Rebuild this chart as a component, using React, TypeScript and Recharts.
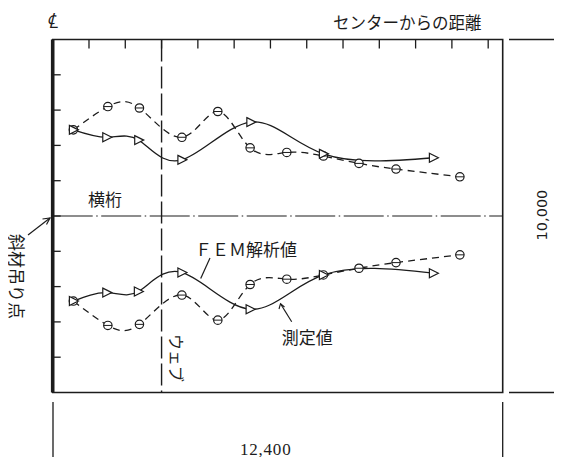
import {
  ComposedChart,
  Line,
  XAxis,
  YAxis,
  ReferenceLine,
  ReferenceArea,
} from 'recharts'

// distance from centre, mm (x) and plotting height, mm (y)
const upperMeasuredX = [570, 1520, 2390, 3560, 4550, 5440, 6450, 7460, 8440, 9460, 11220]
const upperMeasuredY = [7440, 8100, 8060, 7230, 7960, 6930, 6800, 6700, 6490, 6330, 6110]
const upperFemX = [570, 1490, 2370, 3560, 5460, 7460, 10490]
const upperFemY = [7440, 7230, 7150, 6590, 7660, 6760, 6650]

const lowerMeasuredX = [570, 1520, 2390, 3560, 4550, 5440, 6450, 7460, 8440, 9460, 11220]
const lowerMeasuredY = [2590, 1900, 1930, 2760, 2050, 3060, 3210, 3330, 3520, 3680, 3900]
const lowerFemX = [570, 1490, 2360, 3560, 5440, 7460, 10490]
const lowerFemY = [2590, 2830, 2860, 3400, 2360, 3330, 3380]

const xTicks = [1000, 2000, 3000, 4000, 5000, 6000, 7000, 8000, 9000, 10000, 11000, 12000]
const yTicks = [1000, 2000, 3000, 4000, 5000, 6000, 7000, 8000, 9000]

const WIDTH_MM = 12400
const HEIGHT_MM = 10000
const WEB_X = 3000
const CENTRE_Y = 5000

// plot frame on the page (body margin 8 + chart margins)
const FRAME_LEFT = 52.7
const FRAME_TOP = 39.5
const FRAME_W = 450

const INK = '#1c1c1c'
const JP = '"Noto Sans CJK JP", "Noto Sans", sans-serif'

const toPoints = (xs: number[], ys: number[]) => xs.map((x, i) => ({ x, y: ys[i] }))

const upperMeasured = toPoints(upperMeasuredX, upperMeasuredY)
const upperFem = toPoints(upperFemX, upperFemY)
const lowerMeasured = toPoints(lowerMeasuredX, lowerMeasuredY)
const lowerFem = toPoints(lowerFemX, lowerFemY)

// tick marks only, no labels
const noLabel = () => <g />

function CircleDot(props: any) {
  const { cx, cy } = props
  if (cx == null || cy == null) return null
  return (
    <g>
      <circle cx={cx} cy={cy} r={4.2} fill="#fff" stroke={INK} strokeWidth={1.2} />
      <line x1={cx - 4.2} y1={cy} x2={cx + 4.2} y2={cy} stroke={INK} strokeWidth={1} />
    </g>
  )
}

function TriangleDot(props: any) {
  const { cx, cy } = props
  if (cx == null || cy == null) return null
  const pts = `${cx - 4},${cy - 4.5} ${cx + 5},${cy} ${cx - 4},${cy + 4.5}`
  return <polygon points={pts} fill="#fff" stroke={INK} strokeWidth={1.2} />
}

export default function App() {
  return (
    <div style={{ position: 'relative', width: 546, height: 449 }}>
      <ComposedChart
        width={546}
        height={449}
        margin={{ top: 31.5, left: 44.7, right: 51.3, bottom: 64.5 }}
      >
        <XAxis
          type="number"
          dataKey="x"
          domain={[0, WIDTH_MM]}
          ticks={xTicks}
          orientation="top"
          height={0}
          tick={noLabel}
          tickLine={false}
          axisLine={{ stroke: INK, strokeWidth: 1.6 }}
          allowDataOverflow
        />
        <YAxis
          type="number"
          dataKey="y"
          domain={[0, HEIGHT_MM]}
          ticks={yTicks}
          mirror
          tick={noLabel}
          tickSize={8}
          tickLine={{ stroke: INK, strokeWidth: 1.3 }}
          axisLine={{ stroke: INK, strokeWidth: 3.6 }}
          allowDataOverflow
        />
        <ReferenceArea
          x1={0}
          x2={WIDTH_MM}
          y1={0}
          y2={HEIGHT_MM}
          fill="none"
          fillOpacity={0}
          stroke={INK}
          strokeWidth={1.6}
          ifOverflow="visible"
        />
        <ReferenceLine x={WEB_X} stroke={INK} strokeWidth={1.4} strokeDasharray="22 5" />
        <ReferenceLine y={CENTRE_Y} stroke={INK} strokeWidth={1.1} strokeDasharray="40 3.5 1.5 3.5" />

        <Line
          data={upperMeasured}
          dataKey="y"
          type="natural"
          stroke={INK}
          strokeWidth={1.3}
          strokeDasharray="7 5"
          dot={<CircleDot />}
          isAnimationActive={false}
        />
        <Line
          data={lowerMeasured}
          dataKey="y"
          type="natural"
          stroke={INK}
          strokeWidth={1.3}
          strokeDasharray="7 5"
          dot={<CircleDot />}
          isAnimationActive={false}
        />
        <Line
          data={upperFem}
          dataKey="y"
          type="natural"
          stroke={INK}
          strokeWidth={1.3}
          dot={<TriangleDot />}
          isAnimationActive={false}
        />
        <Line
          data={lowerFem}
          dataKey="y"
          type="natural"
          stroke={INK}
          strokeWidth={1.3}
          dot={<TriangleDot />}
          isAnimationActive={false}
        />
      </ComposedChart>

      {/* annotations, page coordinates */}
      <svg
        width={562}
        height={465}
        style={{ position: 'absolute', left: -8, top: -8, pointerEvents: 'none' }}
      >
        {/* inward ticks along the top edge, one per metre */}
        {xTicks.map((t) => {
          const x = FRAME_LEFT + (t / WIDTH_MM) * FRAME_W
          return (
            <line
              key={t}
              x1={x}
              y1={FRAME_TOP}
              x2={x}
              y2={FRAME_TOP + 9}
              stroke={INK}
              strokeWidth={1.3}
            />
          )
        })}

        <text x={46} y={28} fontSize={21} fontStyle="italic" fontFamily="DejaVu Serif" fill={INK}>
          ℄
        </text>
        <text x={333} y={29} fontSize={16.5} fontFamily={JP} fill={INK}>
          センターからの距離
        </text>

        {/* height dimension */}
        <path d="M509 39.5 H557 V392.5 H509" stroke={INK} strokeWidth={1.3} fill="none" />
        <text
          x={541.7}
          y={215}
          transform="rotate(-90 541.7 215)"
          textAnchor="middle"
          dominantBaseline="central"
          fontSize={14.5}
          fontFamily="DejaVu Sans"
          fill={INK}
        >
          10,000
        </text>

        {/* width dimension */}
        <path d="M53 402 V463 H502.7 V402" stroke={INK} strokeWidth={1.3} fill="none" />
        <text
          x={265.7}
          y={455}
          textAnchor="middle"
          fontSize={17}
          fontFamily="Liberation Serif"
          letterSpacing={0.8}
          fill={INK}
        >
          12,400
        </text>

        <text x={88} y={206} fontSize={17} fontFamily={JP} fill={INK}>
          横桁
        </text>

        <text x={195} y={256} fontSize={17} fontFamily={JP} fill={INK}>
          ＦＥＭ解析値
        </text>
        <line x1={210} y1={258} x2={200.7} y2={278.5} stroke={INK} strokeWidth={1.2} />

        <text x={281.7} y={344} fontSize={17} fontFamily={JP} fill={INK}>
          測定値
        </text>
        <line x1={291.7} y1={321.7} x2={280.5} y2={303.8} stroke={INK} strokeWidth={1.2} />
        <path d="M279 309 L280.5 303.8 L284.5 307" stroke={INK} strokeWidth={1.1} fill="none" />

        <text
          x={177}
          y={358}
          transform="rotate(90 177 358)"
          textAnchor="middle"
          dominantBaseline="central"
          fontSize={16}
          fontFamily={JP}
          fill={INK}
        >
          ウェブ
        </text>

        <text
          x={17}
          y={276.5}
          transform="rotate(90 17 276.5)"
          textAnchor="middle"
          dominantBaseline="central"
          fontSize={17}
          fontFamily={JP}
          fill={INK}
        >
          斜材吊り点
        </text>
        <line x1={28} y1={235} x2={50} y2={218} stroke={INK} strokeWidth={1.2} />
        <path d="M42.5 219 L50 218 L46.5 224.5" stroke={INK} strokeWidth={1.2} fill="none" />
      </svg>
    </div>
  )
}
